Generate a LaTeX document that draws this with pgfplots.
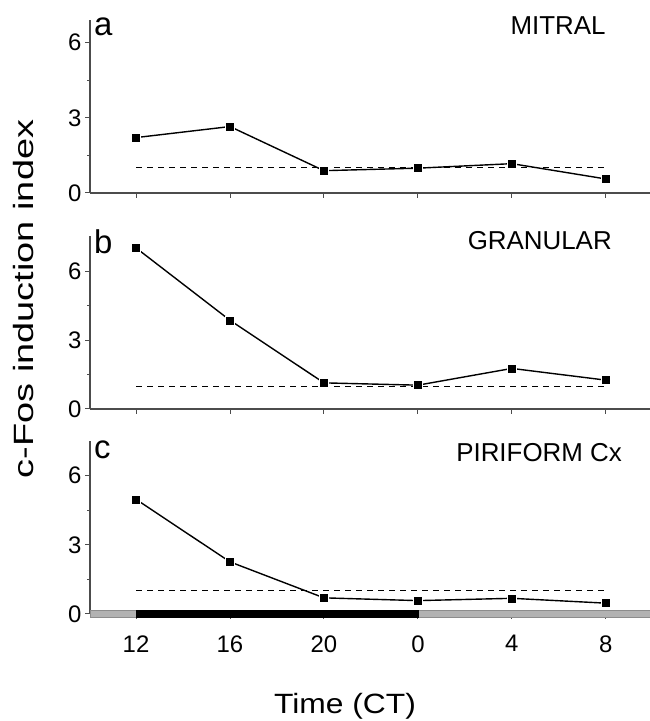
\documentclass[border=0pt]{standalone}
\usepackage{fontspec}
\setmainfont{Liberation Sans}
\usepackage{graphicx}
\usepackage{pgfplots}
\pgfplotsset{compat=1.18}

\pgfplotsset{
  panel/.style={
    scale only axis, width=560bp, height=173bp, anchor=south west,
    axis x line*=bottom, axis y line*=left,
    axis line style={black!70, line width=1.1bp},
    xmin=-0.49, xmax=5.47, ymin=0,
    xtick={0,...,5}, xticklabels={},
    ytick={0,3,6}, minor ytick={1.5,4.5},
    tick align=outside, major tick length=5bp, minor tick length=3bp,
    tick style={black!70, line width=1bp},
    ticklabel style={font=\fontsize{24}{26}\selectfont},
    xticklabel style={yshift=-13bp},
    /pgf/number format/assume math mode=true,
    clip=false,
  },
}
\tikzset{
  series/.style={black, line width=1.4bp, mark=square*, mark size=4.5bp,
    mark options={fill=black, draw=white, line width=0.5bp}},
  unity/.style={black, line width=0.9bp, dash pattern=on 6bp off 5bp},
  letter/.style={anchor=base west, inner sep=0pt, font=\fontsize{33}{36}\selectfont},
  region/.style={anchor=base east, inner sep=0pt, font=\fontsize{26}{28}\selectfont},
}

\begin{document}
\begin{tikzpicture}
\path[use as bounding box] (0,0) rectangle (650bp,721bp);

% a: mitral
\begin{axis}[panel, at={(90bp,528bp)}, ymax=6.9]
\addplot[unity] coordinates {(0,1)(5,1)};
\addplot[series] coordinates {(0,2.21)(1,2.65)(2,0.89)(3,0.99)(4,1.17)(5,0.56)};
\node[letter] at (rel axis cs:0,1) [xshift=4bp, yshift=-16bp] {a};
\node[region] at (rel axis cs:0.921,1) [yshift=-15bp] {MITRAL};
\end{axis}

% b: granular
\begin{axis}[panel, at={(90bp,312bp)}, ymax=7.55]
\addplot[unity] coordinates {(0,1)(5,1)};
\addplot[series] coordinates {(0,7.03)(1,3.87)(2,1.14)(3,1.04)(4,1.77)(5,1.26)};
\node[letter] at (rel axis cs:0,1) [xshift=4bp, yshift=-18bp] {b};
\node[region] at (rel axis cs:0.932,1) [yshift=-14bp] {GRANULAR};
\end{axis}

% c: piriform cortex, with the dark phase bar on the time axis
\begin{axis}[panel, at={(90bp,107bp)}, ymax=7.5,
  xticklabels={12,16,20,0,4,8}]
\addplot[fill=black!30, draw=black!45, line width=0.6bp] coordinates
  {(-0.49,-0.15)(5.47,-0.15)(5.47,0.15)(-0.49,0.15)} -- cycle;
\addplot[fill=black, draw=black, line width=0.6bp] coordinates
  {(0,-0.15)(3,-0.15)(3,0.15)(0,0.15)} -- cycle;
\addplot[unity] coordinates {(0,1)(5,1)};
\addplot[series] coordinates {(0,4.97)(1,2.26)(2,0.7)(3,0.58)(4,0.68)(5,0.47)};
\node[letter] at (rel axis cs:0,1) [xshift=4bp, yshift=-17bp] {c};
\node[region] at (rel axis cs:0.95,1) [yshift=-20bp] {PIRIFORM Cx};
\end{axis}

\node[rotate=90, anchor=base, inner sep=0pt, font=\fontsize{28}{30}\selectfont]
  at (33bp,422bp) {\scalebox{1.36}[1]{c-Fos induction index}};
\node[anchor=base, inner sep=0pt, font=\fontsize{28}{30}\selectfont]
  at (345bp,8bp) {\scalebox{1.14}[1]{Time (CT)}};
\end{tikzpicture}
\end{document}
